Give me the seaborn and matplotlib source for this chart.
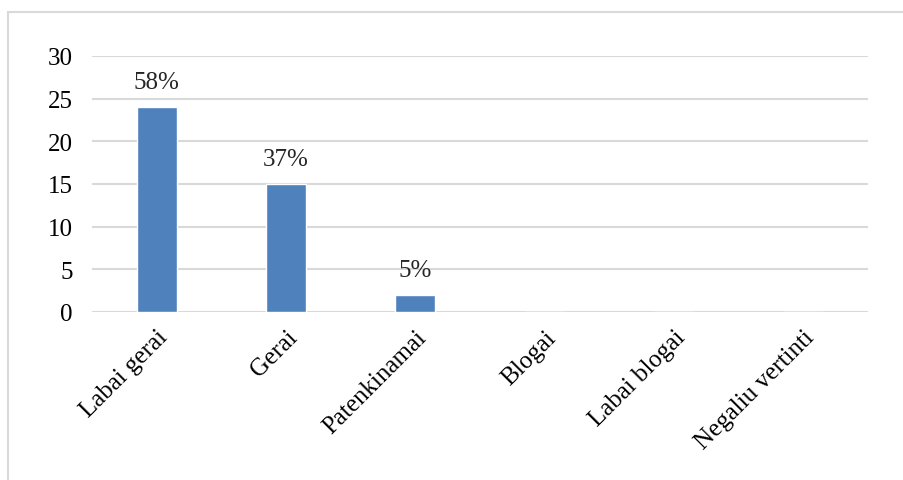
import matplotlib
matplotlib.use("Agg")
import matplotlib.pyplot as plt
import seaborn as sns
import pandas as pd
from matplotlib.patches import Rectangle

# Duomenys
kategorijos = ['Labai gerai', 'Gerai', 'Patenkinamai', 'Blogai', 'Labai blogai', 'Negaliu vertinti']
reiksmes = [24, 15, 2, 0, 0, 0]
procentai = ['58%', '37%', '5%', '', '', '']

df = pd.DataFrame({'kategorija': kategorijos, 'reiksme': reiksmes})

sns.set_style('white')
plt.rcParams['font.family'] = ['Liberation Serif', 'DejaVu Serif']

fig = plt.figure(figsize=(9.04, 4.81), dpi=100)
ax = fig.add_axes([92 / 904, 1 - 313 / 481, (868 - 92) / 904, (313 - 57) / 481])

sns.barplot(data=df, x='kategorija', y='reiksme', color='#4f81bd', width=0.31,
            saturation=1, ax=ax, zorder=3)

ax.set_ylim(0, 30)
ax.set_yticks(range(0, 31, 5))
ax.set_xlim(-0.5, len(kategorijos) - 0.5)
ax.yaxis.grid(True, color='#d9d9d9', linewidth=1.5, zorder=0)
ax.set_axisbelow(True)
for s in ax.spines.values():
    s.set_visible(False)
ax.tick_params(axis='both', length=0, labelsize=18, colors='black')
ax.tick_params(axis='y', pad=14)
ax.tick_params(axis='x', pad=10)
ax.set_xlabel('')
ax.set_ylabel('')
plt.setp(ax.get_xticklabels(), rotation=45, ha='right', rotation_mode='anchor')

for i, (v, p) in enumerate(zip(reiksmes, procentai)):
    if p:
        ax.annotate(p, (i, v), xytext=(0, 10), textcoords='offset points',
                    ha='center', va='bottom', fontsize=18)

# rėmelis aplink diagramą
fig.patches.append(Rectangle((8 / 904, -0.1), 1.2, 1 - 12.5 / 481 + 0.1,
                             transform=fig.transFigure, fill=False,
                             edgecolor='#d9d9d9', linewidth=1.5))

fig.savefig('out.png', dpi=100)
